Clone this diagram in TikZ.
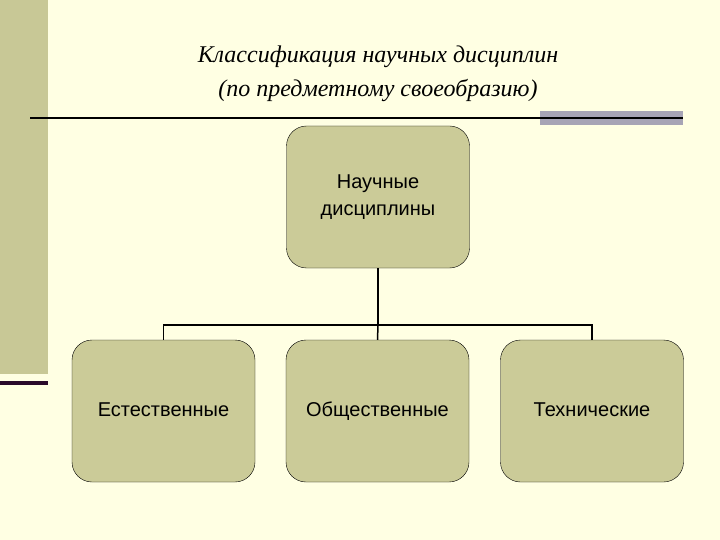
\documentclass[tikz,border=0pt]{standalone}
\usepackage{fontspec}
\setmainfont{Liberation Serif}
\newfontfamily\boxfont{Liberation Sans}
\begin{document}
\begin{tikzpicture}[x=1pt,y=-1pt,
  bx/.style={draw=black,fill=boxfill,rounded corners=20pt,minimum width=183pt,minimum height=142pt,align=center,font=\boxfont\fontsize{20}{27}\selectfont},
  ttl/.style={font=\itshape\fontsize{24}{28}\selectfont}]
\definecolor{bgc}{HTML}{FFFFE3}
\definecolor{boxfill}{HTML}{CBCB98}
\definecolor{strip}{HTML}{C8C896}
\definecolor{grayb}{HTML}{A7A4B5}
\definecolor{dpurple}{HTML}{2A0A2A}
\useasboundingbox (0,0) rectangle (720,540);
\fill[bgc] (0,0) rectangle (720,540);
\fill[strip] (0,0) rectangle (48,374);
\fill[dpurple] (0,381) rectangle (48,385);
\fill[grayb] (540,111) rectangle (683,125);
\draw[line width=2pt] (30,118) -- (683,118);
\node[ttl] (t1) at (378,57) {Классификация научных дисциплин};
\node[ttl] (t2) at (378,91) {(по  предметному своеобразию)};
\node[bx] (top) at (378,197) {Научные\\дисциплины};
\node[bx] (a) at (163.5,411) {\strut Естественные};
\node[bx] (b) at (377.5,411) {\strut Общественные};
\node[bx] (c) at (592,411) {\strut Технические};
\coordinate (j) at (378,325);
\draw[line width=1.5pt] (top.south) -- (j);
\draw[line width=1.5pt] (a.north) |- (j) -| (c.north);
\draw[line width=1.5pt] (j) -- (b.north);
\end{tikzpicture}
\end{document}
